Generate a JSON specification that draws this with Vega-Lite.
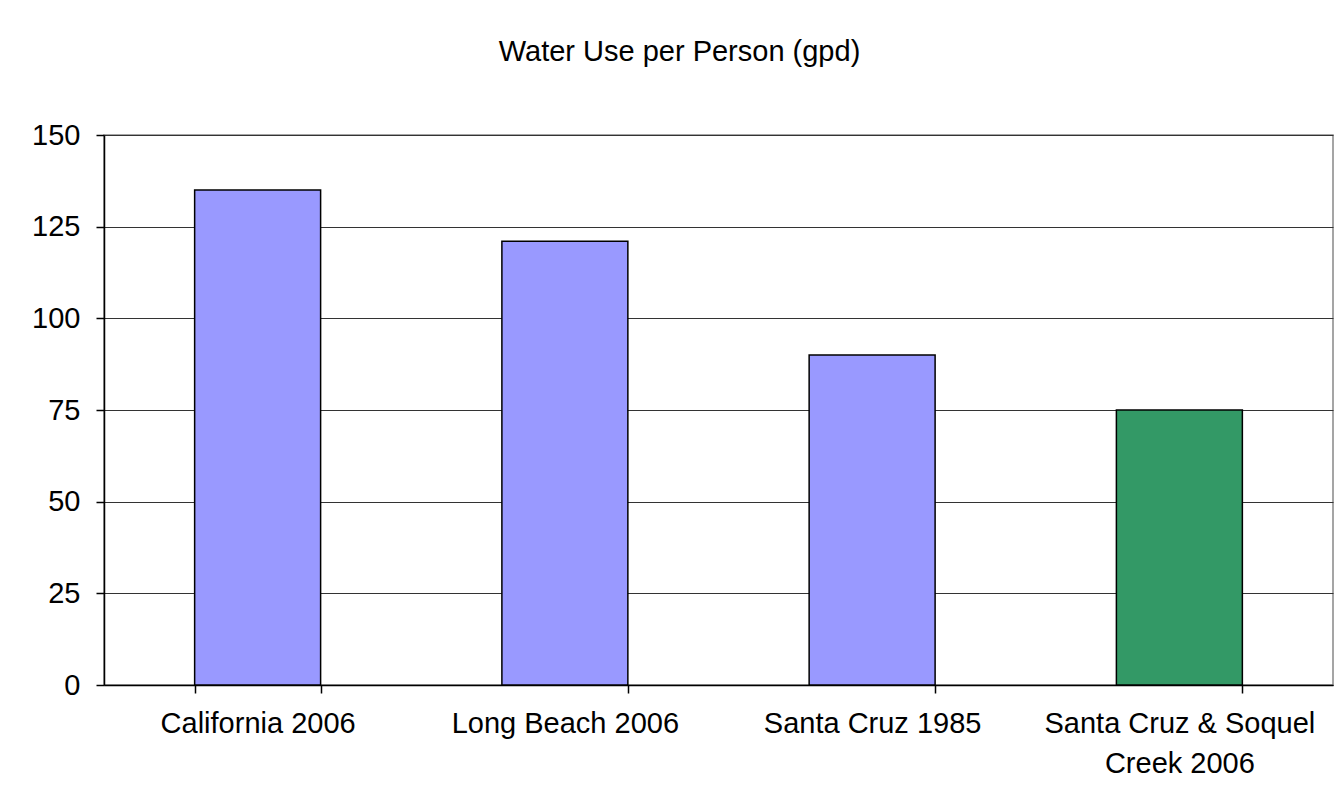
{
  "$schema": "https://vega.github.io/schema/vega-lite/v6.json",
  "width": 1229,
  "height": 550,
  "autosize": {"type": "none"},
  "padding": {"left": 104, "top": 135, "right": 6, "bottom": 123},
  "background": "white",
  "title": {
    "text": "Water Use per Person (gpd)",
    "font": "Liberation Sans",
    "fontSize": 29,
    "fontWeight": "normal",
    "color": "black",
    "anchor": "middle",
    "offset": 54,
    "dx": -39
  },
  "data": {
    "values": [
      {"place": "California 2006", "gpd": 135, "type": "Comparison"},
      {"place": "Long Beach 2006", "gpd": 121, "type": "Comparison"},
      {"place": "Santa Cruz 1985", "gpd": 90, "type": "Comparison"},
      {"place": "Santa Cruz & Soquel Creek 2006", "gpd": 75, "type": "Local"}
    ]
  },
  "mark": {"type": "bar", "stroke": "black", "strokeWidth": 1.5},
  "encoding": {
    "x": {
      "field": "place",
      "type": "nominal",
      "sort": null,
      "title": null,
      "scale": {"paddingInner": 0.59, "paddingOuter": 0.295},
      "axis": {
        "labelAngle": 0,
        "labelFont": "Liberation Sans",
        "labelFontSize": 29,
        "labelColor": "black",
        "labelPadding": 16,
        "labelLineHeight": 40,
        "labelLimit": 0,
        "tickBand": "extent",
        "tickSize": 8,
        "tickColor": "black",
        "domainColor": "black",
        "labelExpr": "datum.value == 'Santa Cruz & Soquel Creek 2006' ? ['Santa Cruz & Soquel', 'Creek 2006'] : datum.value"
      }
    },
    "y": {
      "field": "gpd",
      "type": "quantitative",
      "title": null,
      "scale": {"domain": [0, 150], "nice": false},
      "axis": {
        "values": [0, 25, 50, 75, 100, 125, 150],
        "labelFont": "Liberation Sans",
        "labelFontSize": 29,
        "labelColor": "black",
        "labelPadding": 16,
        "tickSize": 8,
        "tickColor": "black",
        "domainColor": "black",
        "gridColor": "#333333",
        "gridWidth": 1
      }
    },
    "color": {
      "field": "type",
      "type": "nominal",
      "scale": {"domain": ["Comparison", "Local"], "range": ["#9999ff", "#339966"]},
      "legend": null
    }
  },
  "config": {
    "view": {"stroke": "#888888", "strokeWidth": 1.5},
    "axis": {"domainWidth": 1.5, "tickWidth": 1.5}
  }
}
